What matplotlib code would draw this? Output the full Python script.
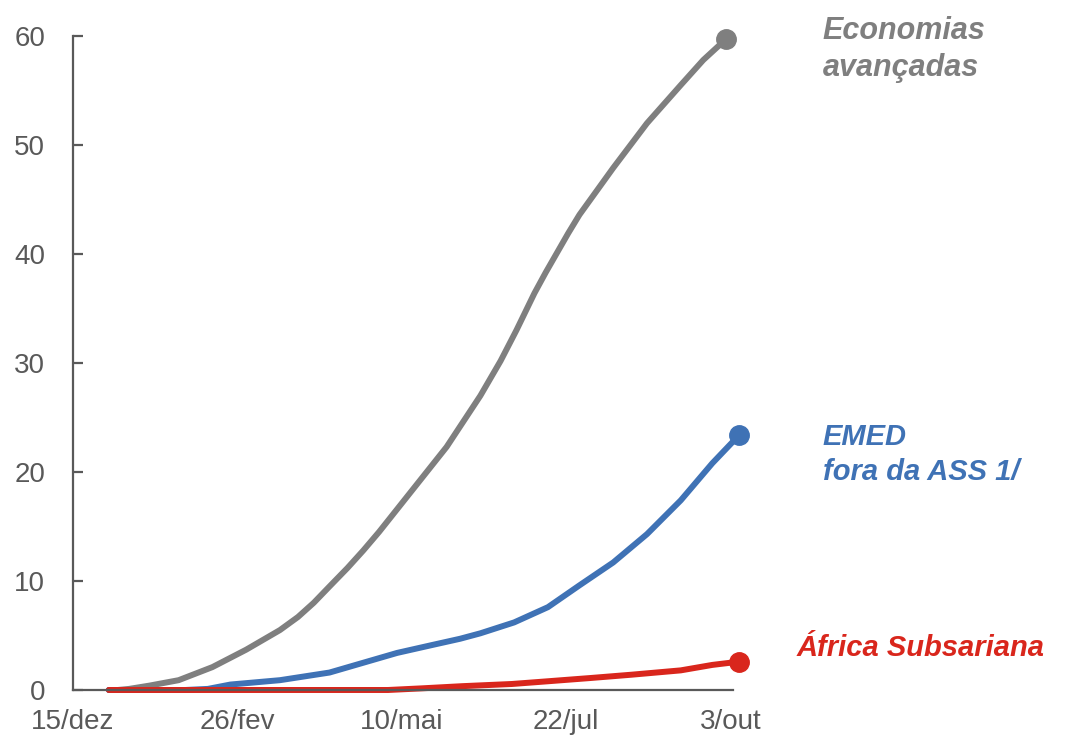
import matplotlib.pyplot as plt

# days counted from 15/dez
tick_days = [0, 73, 146, 219, 292]
tick_labels = ["15/dez", "26/fev", "10/mai", "22/jul", "3/out"]

grey_days = [16, 20, 25, 34, 47, 62, 77, 92, 100, 107, 114, 122, 129, 136, 151, 166, 181, 190, 197, 205, 210, 215, 220, 225, 240, 255, 270, 280, 290]
grey_vals = [0, 0, 0.1, 0.4, 0.9, 2.1, 3.7, 5.5, 6.7, 8.0, 9.5, 11.2, 12.8, 14.5, 18.4, 22.3, 27.0, 30.2, 33.0, 36.4, 38.3, 40.1, 41.9, 43.6, 47.9, 52.0, 55.5, 57.8, 59.7]

blue_days = [16, 50, 60, 70, 92, 114, 129, 144, 159, 172, 181, 196, 211, 225, 240, 255, 270, 284, 296]
blue_vals = [0, 0, 0.1, 0.5, 0.9, 1.6, 2.5, 3.4, 4.1, 4.7, 5.2, 6.2, 7.6, 9.6, 11.7, 14.3, 17.4, 20.8, 23.4]

red_days = [16, 140, 155, 173, 195, 211, 230, 248, 270, 284, 296]
red_vals = [0, 0, 0.15, 0.35, 0.55, 0.8, 1.1, 1.4, 1.8, 2.3, 2.6]

col_grey = "#7f7f7f"
col_blue = "#3f72b5"
col_red = "#d9261c"
col_axis = "#595959"

plt.rcParams['font.family'] = ["Liberation Sans", "DejaVu Sans"]

fig = plt.figure(figsize=(10.71, 7.44), dpi=100)
ax = fig.add_axes([0.068, 0.0726, 0.616, 0.879])

for d, v, c in [(grey_days, grey_vals, col_grey), (blue_days, blue_vals, col_blue), (red_days, red_vals, col_red)]:
    ax.plot(d, v, color=c, lw=4.3, solid_capstyle="round", solid_joinstyle="round", clip_on=False)
    ax.plot(d[-1], v[-1], "o", color=c, ms=14, clip_on=False)

ax.set_xlim(0, 293)
ax.set_ylim(0, 60)
ax.set_yticks(range(0, 61, 10))
ax.set_xticks(tick_days)
ax.set_xticklabels(tick_labels)

for s in ["top", "right"]:
    ax.spines[s].set_visible(False)
for s in ["left", "bottom"]:
    ax.spines[s].set_color(col_axis)
    ax.spines[s].set_linewidth(1.6)

ax.tick_params(axis="y", direction="in", length=7, width=1.6, color=col_axis,
               labelsize=20, labelcolor=col_axis, pad=20)
ax.tick_params(axis="x", length=0, labelsize=20, labelcolor=col_axis, pad=14)

fig.text(0.768, 0.978, "Economias\navançadas", color=col_grey, fontsize=22,
         fontweight="bold", fontstyle="italic", va="top", ha="left", linespacing=1.3)
fig.text(0.768, 0.432, "EMED\nfora da ASS 1/", color=col_blue, fontsize=21,
         fontweight="bold", fontstyle="italic", va="top", ha="left", linespacing=1.35)
fig.text(0.744, 0.129, "África Subsariana", color=col_red, fontsize=21,
         fontweight="bold", fontstyle="italic", va="center", ha="left")

fig.savefig("out.png", dpi=100)
